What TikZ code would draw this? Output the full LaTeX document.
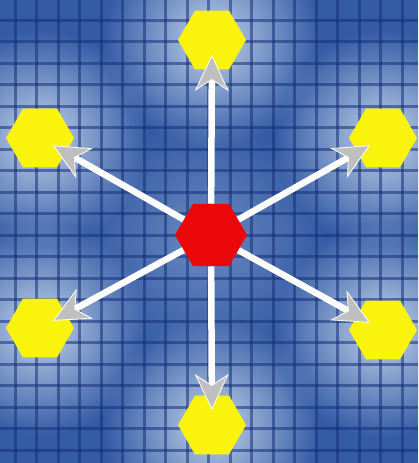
\documentclass[tikz,border=0pt]{standalone}
\usetikzlibrary{arrows.meta,shapes.geometric,fadings}
\definecolor{bgblue}{RGB}{52,92,166}
\definecolor{gridblue}{RGB}{22,48,122}
\definecolor{glowblue}{RGB}{210,224,242}
\definecolor{hexyellow}{RGB}{250,244,12}
\definecolor{hexred}{RGB}{236,8,8}
\tikzfading[name=glowfade,inner color=transparent!0,outer color=transparent!100]
\begin{document}
\begin{tikzpicture}[x=1pt,y=-1pt,
  hx/.style={regular polygon,regular polygon sides=6,minimum size=68pt,inner sep=0pt,fill=hexyellow},
  ctr/.style={hx,minimum size=72pt,fill=hexred},
  gridln/.style={draw=gridblue,line width=3pt,opacity=0.55},
  glow/.style={fill=glowblue,path fading=glowfade},
  ar/.style={draw=white,line width=6.5pt,shorten >=15pt,
    -{Stealth[length=36pt,width=34pt,inset=11pt,line width=0.8pt,fill=gray!50,color=white]}}]
  \useasboundingbox (0,0) rectangle (418,463);
  \fill[bgblue] (0,0) rectangle (418,463);
  % glow round the outer cells
  \foreach \p in {(212,40),(40,138),(383,138),(40,328),(383,330),(212,425)}
    \fill[glow,opacity=0.9] \p circle (108pt);
  \fill[glow,opacity=0.35] (205,240) circle (120pt);
  % grid
  \foreach \x in {15,36.5,...,420} \draw[gridln] (\x,0) -- (\x,463);
  \foreach \y in {20,41.5,...,465} \draw[gridln] (0,\y) -- (418,\y);
  % cells
  \node[ctr] (c) at (211,235) {};
  \node[hx] (t) at (212,40) {};
  \node[hx] (ul) at (40,138) {};
  \node[hx] (ur) at (383,138) {};
  \node[hx] (ll) at (40,328) {};
  \node[hx] (lr) at (383,330) {};
  \node[hx] (b) at (212,425) {};
  \foreach \n in {t,ul,ur,ll,lr,b}
    \draw[ar] (c) -- (\n.center);
\end{tikzpicture}
\end{document}
